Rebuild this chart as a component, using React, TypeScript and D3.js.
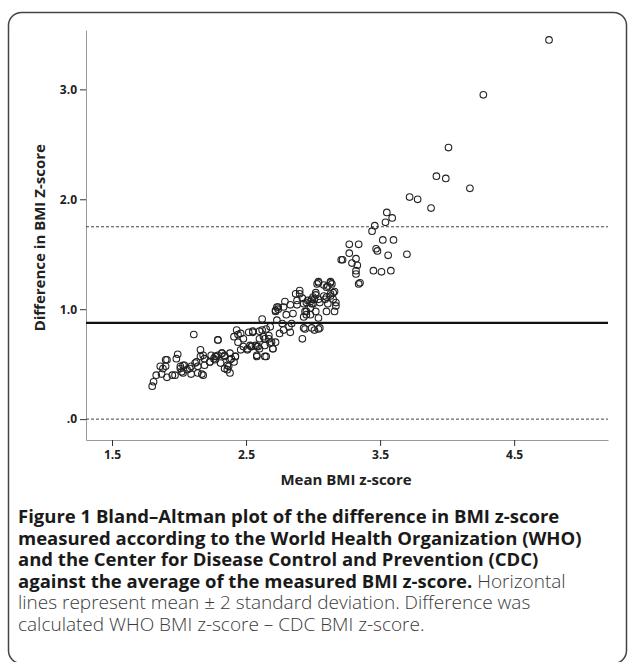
import React, { useEffect, useRef } from "react"
import * as d3 from "d3"

// mean BMI z-score (x) vs difference WHO - CDC (y)
const points: [number, number][] = [
  [1.80, 0.30], [1.81, 0.34], [1.83, 0.40], [1.87, 0.41], [1.91, 0.38], [1.95, 0.40], [1.88, 0.46], [1.86, 0.48],
  [1.90, 0.54], [1.99, 0.59], [1.98, 0.55], [2.01, 0.48], [2.03, 0.49], [2.02, 0.43], [2.06, 0.45], [2.09, 0.41],
  [2.08, 0.46], [2.17, 0.41], [2.16, 0.63], [2.18, 0.58], [2.11, 0.77], [2.12, 0.51], [2.14, 0.48], [2.19, 0.49],
  [2.23, 0.52], [2.26, 0.55], [2.28, 0.57], [2.29, 0.72], [2.32, 0.60], [2.34, 0.57], [2.36, 0.49], [2.38, 0.54],
  [2.41, 0.52], [2.42, 0.57], [2.43, 0.81], [2.46, 0.78], [2.44, 0.70], [2.48, 0.73], [2.51, 0.63], [2.52, 0.79],
  [2.53, 0.67], [2.54, 0.66], [2.55, 0.79], [2.57, 0.67], [2.58, 0.57], [2.59, 0.66], [2.60, 0.73], [2.62, 0.81],
  [2.62, 0.91], [2.64, 0.73], [2.65, 0.57], [2.67, 0.76], [2.68, 0.84], [2.69, 0.70], [2.70, 0.64], [2.72, 0.99],
  [2.73, 0.90], [2.74, 1.02], [2.75, 0.78], [2.77, 0.87], [2.78, 0.81], [2.79, 1.07], [2.80, 0.95], [2.82, 0.84],
  [2.83, 0.79], [2.84, 0.87], [2.85, 0.96], [2.87, 1.14], [2.88, 1.04], [2.90, 1.17], [2.92, 0.73], [2.93, 0.93],
  [2.94, 0.82], [2.95, 0.98], [2.96, 1.08], [2.98, 0.95], [2.99, 1.05], [3.00, 1.11], [3.01, 0.81], [3.03, 1.23],
  [3.04, 0.82],
  [2.16, 0.57], [2.19, 0.55], [2.24, 0.58], [2.27, 0.57], [2.29, 0.58], [2.32, 0.60], [2.34, 0.58], [2.38, 0.60],
  [2.39, 0.55], [2.42, 0.57], [2.46, 0.63], [2.48, 0.66], [2.51, 0.64], [2.54, 0.66], [2.58, 0.66], [2.60, 0.64],
  [2.64, 0.67], [2.68, 0.69], [2.55, 0.80], [2.60, 0.80], [2.65, 0.82], [2.63, 0.75], [2.67, 0.73], [2.72, 0.70],
  [2.70, 0.64], [2.64, 0.57], [2.58, 0.58], [2.23, 0.52], [2.27, 0.54], [2.31, 0.51], [2.34, 0.46], [2.37, 0.48],
  [2.38, 0.42], [2.36, 0.45], [2.13, 0.52], [2.09, 0.48], [2.14, 0.42], [2.18, 0.40], [2.04, 0.49], [2.01, 0.46],
  [2.03, 0.42], [1.97, 0.40], [1.91, 0.54], [1.90, 0.48], [2.29, 0.72], [2.44, 0.77], [2.41, 0.75], [2.73, 1.02],
  [2.74, 1.00], [2.72, 0.98],
  [3.04, 1.25], [3.13, 1.25], [3.14, 1.23], [3.08, 1.22], [3.10, 1.20], [3.16, 1.16], [3.02, 1.15], [2.99, 1.09],
  [3.01, 1.09], [3.04, 1.09], [3.08, 1.12], [3.09, 1.09], [3.13, 1.12], [3.15, 1.09], [3.17, 1.06], [2.93, 1.05],
  [2.88, 1.08], [2.83, 1.04], [2.78, 1.02], [2.90, 1.14], [2.92, 1.10], [2.95, 1.06], [2.98, 1.07], [3.00, 1.05],
  [3.05, 1.06], [3.10, 1.11], [3.13, 1.14], [3.11, 1.05], [3.17, 1.03], [3.10, 0.98], [3.16, 0.98], [3.02, 0.98],
  [3.04, 0.92], [2.95, 0.95], [2.98, 1.01], [2.94, 0.98], [2.93, 0.83], [2.99, 0.83], [3.05, 0.83], [3.04, 1.24],
  [3.13, 1.24], [3.11, 1.21], [3.15, 1.15], [3.02, 1.13],
  [3.21, 1.45], [3.22, 1.45], [3.27, 1.59], [3.34, 1.59], [3.27, 1.51], [3.32, 1.46], [3.29, 1.42], [3.33, 1.40],
  [3.32, 1.35], [3.32, 1.32], [3.34, 1.23], [3.35, 1.24], [3.45, 1.35], [3.51, 1.34], [3.58, 1.35], [3.47, 1.55],
  [3.48, 1.53], [3.56, 1.49], [3.70, 1.50], [3.52, 1.63], [3.60, 1.63], [3.44, 1.71], [3.46, 1.76], [3.54, 1.79],
  [3.59, 1.83], [3.55, 1.88], [3.72, 2.02], [3.78, 2.00], [3.88, 1.92], [3.92, 2.21], [3.99, 2.19], [4.01, 2.47],
  [4.17, 2.10], [4.27, 2.95], [4.76, 3.45],
]

const meanDiff = 0.875
const limitLines = [0, 1.75] // mean ± 2 SD
const xTicks = [1.5, 2.5, 3.5, 4.5]
const yTicks = [0, 1, 2, 3]

const captionLines: { text: string; bold: boolean }[][] = [
  [{ text: "Figure 1 Bland\u2013Altman plot of the difference in BMI z-score", bold: true }],
  [{ text: "measured according to the World Health Organization (WHO)", bold: true }],
  [{ text: "and the Center for Disease Control and Prevention (CDC)", bold: true }],
  [
    { text: "against the average of the measured BMI z-score.", bold: true },
    { text: " Horizontal", bold: false },
  ],
  [{ text: "lines represent mean \u00b1 2 standard deviation. Difference was", bold: false }],
  [{ text: "calculated WHO BMI z-score \u2013 CDC BMI z-score.", bold: false }],
]

const W = 629
const H = 662
const FONT = "'Open Sans', Lato, sans-serif"

export default function App() {
  const ref = useRef<SVGSVGElement>(null)

  useEffect(() => {
    const svg = d3.select(ref.current)
    svg.selectAll("*").remove()

    const x = d3.scaleLinear().domain([1.306, 5.2]).range([86, 608])
    const y = d3.scaleLinear().domain([-0.19, 3.54]).range([440, 30])

    // frame
    svg.append("rect")
      .attr("x", 8.5).attr("y", 12.5)
      .attr("width", 618).attr("height", 651)
      .attr("rx", 13)
      .attr("fill", "none")
      .attr("stroke", "#444")
      .attr("stroke-width", 1.5)

    // axes
    svg.append("g")
      .attr("transform", `translate(0,${y.range()[0]})`)
      .call(d3.axisBottom(x).tickValues(xTicks).tickSize(6).tickSizeOuter(0).tickPadding(4)
        .tickFormat((d) => d3.format(".1f")(d as number)))
      .call(g => g.select(".domain").attr("stroke", "#999"))
      .call(g => g.selectAll(".tick line").attr("stroke", "#333"))
      .call(g => g.selectAll("text").attr("font-family", FONT).attr("font-weight", "bold")
        .attr("font-size", 12).attr("fill", "#222"))

    svg.append("g")
      .attr("transform", `translate(${x.range()[0]},0)`)
      .call(d3.axisLeft(y).tickValues(yTicks).tickSize(6).tickSizeOuter(0).tickPadding(3)
        .tickFormat((d) => (d === 0 ? ".0" : (d as number).toFixed(1))))
      .call(g => g.select(".domain").attr("stroke", "#999"))
      .call(g => g.selectAll(".tick line").attr("stroke", "#333"))
      .call(g => g.selectAll("text").attr("font-family", FONT).attr("font-weight", "bold")
        .attr("font-size", 12).attr("fill", "#222"))

    // mean ± 2SD lines
    svg.append("g")
      .selectAll("line")
      .data(limitLines)
      .join("line")
      .attr("x1", x.range()[0]).attr("x2", x.range()[1])
      .attr("y1", d => y(d)).attr("y2", d => y(d))
      .attr("stroke", "#444")
      .attr("stroke-width", 1)
      .attr("stroke-dasharray", "3,2")

    svg.append("line")
      .attr("x1", x.range()[0]).attr("x2", x.range()[1])
      .attr("y1", y(meanDiff)).attr("y2", y(meanDiff))
      .attr("stroke", "#111")
      .attr("stroke-width", 2.2)

    // points
    svg.append("g")
      .selectAll("circle")
      .data(points)
      .join("circle")
      .attr("cx", d => x(d[0]))
      .attr("cy", d => y(d[1]))
      .attr("r", 3.3)
      .attr("fill", "none")
      .attr("stroke", "#222")
      .attr("stroke-width", 1.1)

    // axis titles
    svg.append("text")
      .attr("x", 346).attr("y", 485)
      .attr("text-anchor", "middle")
      .attr("font-family", FONT).attr("font-weight", "bold").attr("font-size", 15)
      .attr("fill", "#222")
      .text("Mean BMI z-score")

    svg.append("text")
      .attr("transform", `translate(45,${y(1.65)}) rotate(-90)`)
      .attr("text-anchor", "middle")
      .attr("font-family", FONT).attr("font-weight", "bold").attr("font-size", 15)
      .attr("fill", "#222")
      .text("Difference in BMI Z-score")

    // caption
    const cap = svg.append("g").attr("font-family", FONT)
    captionLines.forEach((line, i) => {
      const t = cap.append("text").attr("x", 18).attr("y", 523 + i * 21.6)
      line.forEach(seg => {
        t.append("tspan")
          .attr("font-size", seg.bold ? 18.5 : 19)
          .attr("font-weight", seg.bold ? "bold" : 300)
          .attr("fill", seg.bold ? "#1a1a1a" : "#3a3a3a")
          .text(seg.text)
      })
    })
  }, [])

  return (
    <svg
      ref={ref}
      width={W}
      height={H}
      style={{ position: "absolute", left: 0, top: 0, background: "#fff" }}
    />
  )
}
